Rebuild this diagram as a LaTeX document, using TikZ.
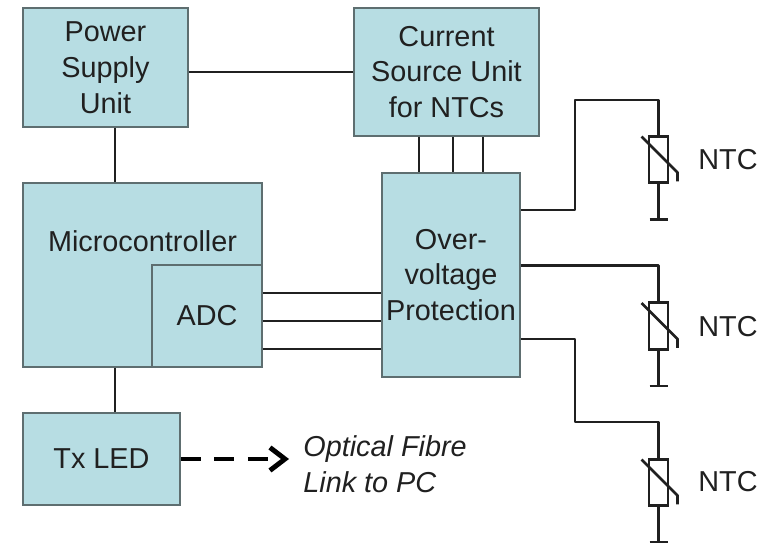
\documentclass[tikz,border=0pt]{standalone}
\usepackage{fontspec}
\setmainfont{Liberation Sans}
\usepackage{tikz}
\usetikzlibrary{arrows.meta, positioning}
\definecolor{BoxBlue}{HTML}{B7DDE3}
\definecolor{BoxEdge}{HTML}{5E6E70}
\definecolor{WireGrey}{HTML}{202020}

\begin{document}
\begin{tikzpicture}[
	MyBox/.style={rectangle, draw=BoxEdge, line width=0.9pt, fill=BoxBlue, inner sep=0pt,
		align=center, text=WireGrey,
		font=\fontsize{16.4}{20.4}\selectfont},
	MyText/.style={text=WireGrey, inner sep=0pt, font=\fontsize{16.4}{20.4}\selectfont},
	MyWire/.style={draw=WireGrey, line width=1.6pt, line join=round},
	MyNtc/.style={rectangle, draw=WireGrey, line width=1.6pt, fill=white, inner sep=0pt,
		minimum width=0.38cm, minimum height=0.93cm}
	]

\useasboundingbox (0,0) rectangle (15.26,-10.86);

% blocks
\node [MyBox, minimum width=3.3cm, minimum height=2.38cm] (psu) at (2.11,-1.35) {Power\\Supply\\Unit};
\node [MyBox, minimum width=3.7cm, minimum height=2.56cm] (csu) at (8.93,-1.44) {Current\\Source Unit\\for NTCs};
\node [MyBox, minimum width=4.78cm, minimum height=3.68cm] (mcu) at (2.85,-5.5) {};
\node [MyText] (mcutext) at (2.85,-4.82) {Microcontroller};
\node [MyBox, minimum width=2.2cm, minimum height=2.04cm] (adc) at (4.14,-6.32) {ADC};
\node [MyBox, minimum width=3.14cm, minimum height=1.84cm] (tx) at (2.03,-9.18) {Tx LED};
\node [MyBox, minimum width=2.76cm, minimum height=4.08cm] (ovp) at (9.02,-5.5) {Over-\\voltage\\Protection};

% optical link
\node [MyText, align=left, anchor=west, font=\fontsize{16.4}{20.4}\selectfont\itshape] (link) at (6.06,-9.28) {Optical Fibre\\Link to PC};
\coordinate (linkend) at (5.78,-9.18);
\draw [draw=black, line width=2.8pt, dash pattern=on 0.4cm off 0.27cm,
	-{Straight Barb[length=0.3cm, width=0.46cm, line width=2.8pt]}] (tx.east) -- (linkend);

% thermistors
\node [MyNtc] (ntc1) at (13.17,-3.19) {};
\node [MyNtc] (ntc2) at (13.17,-6.52) {};
\node [MyNtc] (ntc3) at (13.17,-9.65) {};
\node [MyText] (label1) at (14.56,-3.2) {NTC};
\node [MyText] (label2) at (14.56,-6.54) {NTC};
\node [MyText] (label3) at (14.56,-9.64) {NTC};

\coordinate (gnd1) at (13.17,-4.39);
\coordinate (gnd2) at (13.17,-7.72);
\coordinate (gnd3) at (13.17,-10.84);
\coordinate (bend1) at (11.5,-2.0);
\coordinate (bend3) at (11.5,-8.44);
\coordinate (port1) at (11.5,-4.2);
\coordinate (port2) at (11.5,-5.31);
\coordinate (port3) at (11.5,-6.78);

% wires
\coordinate (spine) at (2.3,-3);
\draw [MyWire] (psu.east |- csu.west) -- (csu.west);
\draw [MyWire] (spine |- psu.south) -- (spine |- mcu.north);
\draw [MyWire] (spine |- mcu.south) -- (spine |- tx.north);

\coordinate (drop1) at (8.38,-3);
\coordinate (drop2) at (9.06,-3);
\coordinate (drop3) at (9.66,-3);
\draw [MyWire] (drop1 |- csu.south) -- (drop1 |- ovp.north);
\draw [MyWire] (drop2 |- csu.south) -- (drop2 |- ovp.north);
\draw [MyWire] (drop3 |- csu.south) -- (drop3 |- ovp.north);

\coordinate (rail1) at (6,-5.86);
\coordinate (rail2) at (6,-6.42);
\coordinate (rail3) at (6,-6.98);
\draw [MyWire] (adc.east |- rail1) -- (ovp.west |- rail1);
\draw [MyWire] (adc.east |- rail2) -- (ovp.west |- rail2);
\draw [MyWire] (adc.east |- rail3) -- (ovp.west |- rail3);

\draw [MyWire] (ovp.east |- port1) -- (port1) -- (bend1) -- (bend1 -| ntc1) -- (ntc1.north);
\draw [MyWire] (ovp.east |- port2) -- (port2 -| ntc2) -- (ntc2.north);
\draw [MyWire] (ovp.east |- port3) -- (port3) -- (bend3) -- (bend3 -| ntc3) -- (ntc3.north);

\draw [MyWire] (ntc1.south) -- (gnd1);
\draw [MyWire] (ntc2.south) -- (gnd2);
\draw [MyWire] (ntc3.south) -- (gnd3);
\draw [MyWire] ([xshift=-0.18cm]gnd1) -- ([xshift=0.18cm]gnd1);
\draw [MyWire] ([xshift=-0.18cm]gnd2) -- ([xshift=0.18cm]gnd2);
\draw [MyWire] ([xshift=-0.18cm]gnd3) -- ([xshift=0.18cm]gnd3);

% slashes across the thermistors
\draw [MyWire] (ntc1) ++(-0.34,0.46) -- ++(0.72,-0.72) -- ++(0,-0.18);
\draw [MyWire] (ntc2) ++(-0.34,0.46) -- ++(0.72,-0.72) -- ++(0,-0.18);
\draw [MyWire] (ntc3) ++(-0.34,0.46) -- ++(0.72,-0.72) -- ++(0,-0.18);

\end{tikzpicture}
\end{document}
